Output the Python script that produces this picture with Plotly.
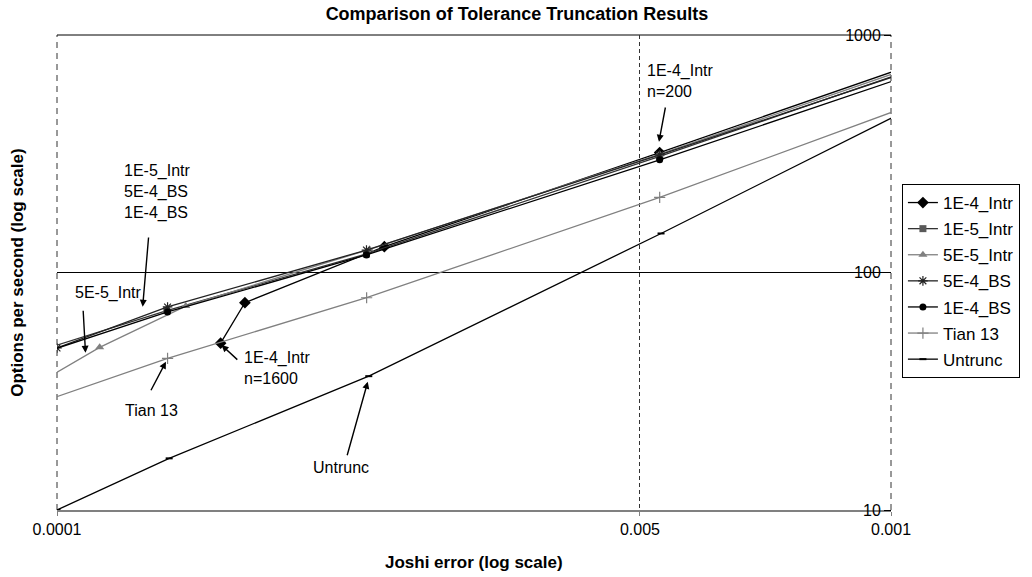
import plotly.graph_objects as go

# ---------------- data ----------------
series_names = ["1E-4_Intr", "1E-5_Intr", "5E-5_Intr", "5E-4_BS", "1E-4_BS", "Tian 13", "Untrunc"]

x_1e4_intr = [1.571e-4, 1.68e-4, 2.469e-4, 5.28e-4, 1.2e-3]
y_1e4_intr = [50.4, 74.6, 128.5, 320, 870]

x_1e5_intr = [9.0e-5, 1.354e-4, 2.35e-4, 5.28e-4, 1.2e-3]
y_1e5_intr = [44.0, 69.1, 119.7, 308, 830]

x_5e5_intr = [9.0e-5, 1.125e-4, 1.427e-4, 2.37e-4, 5.28e-4, 1.2e-3]
y_5e5_intr = [30.7, 48.4, 72.2, 125.2, 315, 850]

x_5e4_bs = [1.0e-4, 1.357e-4, 2.35e-4, 5.28e-4, 1.2e-3]
y_5e4_bs = [48.1, 71.6, 124.3, 313, 820]

x_1e4_bs = [9.0e-5, 1.357e-4, 2.35e-4, 5.28e-4, 1.2e-3]
y_1e4_bs = [42.5, 68.2, 118.5, 298, 790]

x_tian = [9.0e-5, 1.357e-4, 2.351e-4, 5.28e-4, 1.2e-3]
y_tian = [26.4, 43.5, 78.3, 207, 597]

x_untrunc = [1.0e-4, 1.363e-4, 2.365e-4, 5.3e-4, 1.2e-3]
y_untrunc = [10.0, 16.5, 36.6, 146, 615]

x_tickvals = [1e-4, 5e-4, 1e-3]
x_ticktext = ["0.0001", "0.005", "0.001"]
y_tickvals = [10, 100, 1000]
y_ticktext = ["10", "100", "1000"]

title_text = "Comparison of Tolerance Truncation Results"
x_title = "Joshi error (log scale)"
y_title = "Options per second (log scale)"

FONT = "Liberation Sans, Arial, sans-serif"

# ---------------- layout geometry (pixels) ----------------
W, H = 1032, 577
L, R, T, B = 57, 897, 35, 510


def px_x(p):
    return (p - L) / (R - L)


def px_y(p):
    return (B - p) / (B - T)


styles = [
    dict(x=x_1e4_intr, y=y_1e4_intr, lc="#000000", mc="#000000", sym="diamond", ms=9, mlw=0),
    dict(x=x_1e5_intr, y=y_1e5_intr, lc="#333333", mc="#595959", sym="square", ms=7, mlw=0),
    dict(x=x_5e5_intr, y=y_5e5_intr, lc="#808080", mc="#808080", sym="triangle-up", ms=8, mlw=0),
    dict(x=x_5e4_bs, y=y_5e4_bs, lc="#222222", mc="#222222", sym="asterisk-open", ms=8, mlw=1.2),
    dict(x=x_1e4_bs, y=y_1e4_bs, lc="#000000", mc="#000000", sym="circle", ms=7, mlw=0),
    dict(x=x_tian, y=y_tian, lc="#808080", mc="#808080", sym="cross-thin-open", ms=8, mlw=1.2),
    dict(x=x_untrunc, y=y_untrunc, lc="#000000", mc="#000000", sym="line-ew-open", ms=5, mlw=2),
]

fig = go.Figure()
for i, (name, s) in enumerate(zip(series_names, styles)):
    fig.add_trace(go.Scatter(
        x=s["x"], y=s["y"], name=name, mode="lines+markers",
        legendgroup=f"g{i}",
        line=dict(color=s["lc"], width=1.3),
        marker=dict(symbol=s["sym"], size=s["ms"], color=s["mc"],
                    line=dict(width=s["mlw"], color=s["mc"])),
    ))

shapes = [
    dict(type="line", xref="paper", yref="paper", x0=0, x1=0, y0=0, y1=1,
         line=dict(color="#333333", width=1, dash="6px,5px"), layer="below"),
    dict(type="line", xref="paper", yref="paper", x0=1, x1=1, y0=0, y1=1,
         line=dict(color="#333333", width=1, dash="6px,5px"), layer="below"),
    dict(type="line", xref="paper", yref="paper", x0=0, x1=1, y0=1, y1=1,
         line=dict(color="#000000", width=1), layer="below"),
]

ann_font = dict(family=FONT, size=16, color="#000000")
annotations = []

# text labels
labels = [
    ("1E-4_Intr<br>n=200", 649, 80.5),
    ("1E-5_Intr<br>5E-4_BS<br>1E-4_BS", 122.7, 191.5),
    ("5E-5_Intr", 72.7, 292.7),
    ("Tian 13", 123, 410.7),
    ("1E-4_Intr<br>n=1600", 243, 368),
    ("Untrunc", 313, 467),
]
for txt, lx, ly in labels:
    annotations.append(dict(text=txt, xref="paper", yref="paper", x=px_x(lx), y=px_y(ly),
                            xanchor="left", yanchor="middle", align="left",
                            showarrow=False, font=ann_font))

# arrows (head px, tail px)
arrows = [
    ((663.3, 141.7), (670, 106)),
    ((143.3, 306.7), (149.3, 236)),
    ((85.7, 352.7), (83.3, 309.3)),
    ((166.7, 361.7), (151, 391.7)),
    ((222.7, 345), (240, 361)),
    ((370, 381.7), (349, 456.7)),
]
for (hx, hy), (tx, ty) in arrows:
    annotations.append(dict(text="", xref="paper", yref="paper", x=px_x(hx), y=px_y(hy),
                            axref="pixel", ayref="pixel", ax=tx - hx, ay=ty - hy,
                            showarrow=True, arrowhead=2, arrowsize=1, arrowwidth=1.4,
                            arrowcolor="#000000", standoff=0, startstandoff=0))

# axis titles
annotations.append(dict(text="<b>" + x_title + "</b>", xref="paper", yref="paper",
                        x=0.5, y=px_y(562), xanchor="center", yanchor="middle",
                        showarrow=False, font=dict(family=FONT, size=17, color="#000")))
annotations.append(dict(text="<b>" + y_title + "</b>", xref="paper", yref="paper",
                        x=px_x(17), y=0.5, xanchor="center", yanchor="middle", textangle=-90,
                        showarrow=False, font=dict(family=FONT, size=17, color="#000")))

fig.update_layout(
    width=W, height=H,
    margin=dict(l=L, r=W - R, t=T, b=H - B, pad=0),
    paper_bgcolor="white", plot_bgcolor="white",
    font=dict(family=FONT, size=16, color="#000000"),
    title=dict(text="<b>" + title_text + "</b>", x=517 / W, xref="container",
               y=1 - 14 / H, yref="container", xanchor="center", yanchor="middle",
               font=dict(family=FONT, size=18, color="#000")),
    xaxis=dict(type="log", range=[-4, -3], tickvals=x_tickvals, ticktext=x_ticktext,
               showgrid=True, gridcolor="#333333", gridwidth=1, griddash="4px,3px",
               showline=True, linecolor="#808080", linewidth=1.5,
               ticks="outside", ticklen=4, tickcolor="#808080",
               zeroline=False, automargin=False, tickfont=dict(size=16)),
    yaxis=dict(type="log", range=[1, 3], tickvals=y_tickvals, ticktext=y_ticktext,
               anchor="free", position=1, side="left",
               showgrid=True, gridcolor="#000000", gridwidth=1,
               showline=False, ticks="outside", ticklen=7, tickcolor="#000000",
               zeroline=False, automargin=False, tickfont=dict(size=16)),
    legend=dict(x=px_x(908), y=px_y(184), xanchor="left", yanchor="top",
                bordercolor="#000000", borderwidth=1, bgcolor="white",
                font=dict(family=FONT, size=17), tracegroupgap=1, itemwidth=30),
    shapes=shapes,
    annotations=annotations,
    showlegend=True,
)

fig.write_html("out.html")
